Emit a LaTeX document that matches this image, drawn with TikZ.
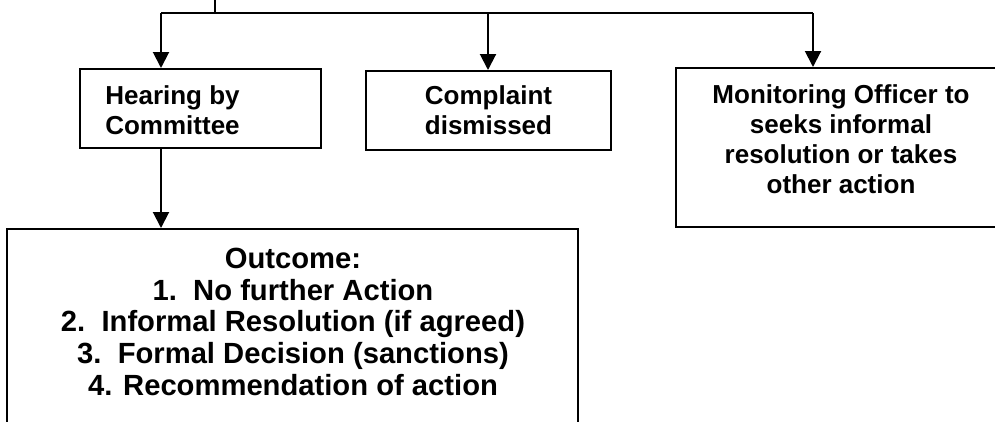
\documentclass[tikz,border=0pt]{standalone}
\usepackage{fontspec}
\setmainfont{Liberation Sans}
\usetikzlibrary{arrows.meta}

\begin{document}
\begin{tikzpicture}
  [x=1pt,y=-1pt,line width=2pt,
   every node/.style={font=\bfseries\fontsize{26}{30}\selectfont,align=center}]
  \tikzstyle{box} = [draw,line width=2pt,inner sep=0pt]
  \tikzstyle{arr} = [-{Triangle[length=16pt,width=16pt]}]
  \useasboundingbox (0,0) rectangle (995,421);
  \clip (0,0) rectangle (995,421);

  % boxes
  \node[box,minimum width=241pt,minimum height=79pt] (hear) at (200.5,108.5) {};
  \node[box,minimum width=245pt,minimum height=79pt] (comp) at (488.5,110.5) {};
  \node[box,minimum width=340pt,minimum height=159pt] (mono) at (846,147.5) {};
  \node[box,minimum width=571pt,minimum height=220pt] (outc) at (292.5,339) {};

  % texts
  \node (thear) at (172.5,110) {Hearing by\\Committee};
  \node (tcomp) at (488.5,110.5) {Complaint\\dismissed};
  \node (tmono) at (841,139.5) {Monitoring Officer to\\seeks informal\\resolution or takes\\other action};
  \node[font=\bfseries\fontsize{29.2}{31.7}\selectfont] (toutc) at (293,321.75)
    {Outcome:\\1.\ \ No further Action\\2.\ \ Informal Resolution (if agreed)\\3.\ \ Formal Decision (sanctions)\\4. Recommendation of action};

  % connectors
  \coordinate (stub) at (215,0);
  \coordinate (bus) at (215,13);
  \coordinate (jL) at (161,13);
  \coordinate (jM) at (488,13);
  \coordinate (jR) at (813,13);
  \draw[line width=1.3pt] (stub) -- (bus);
  \draw (jL) -- (jR);
  \foreach \j/\b in {jL/hear,jM/comp,jR/mono}
    \draw[arr] (\j) -- (\j |- \b.north);
  \draw[arr] (hear.south -| jL) -- (jL |- outc.north);

\end{tikzpicture}
\end{document}
